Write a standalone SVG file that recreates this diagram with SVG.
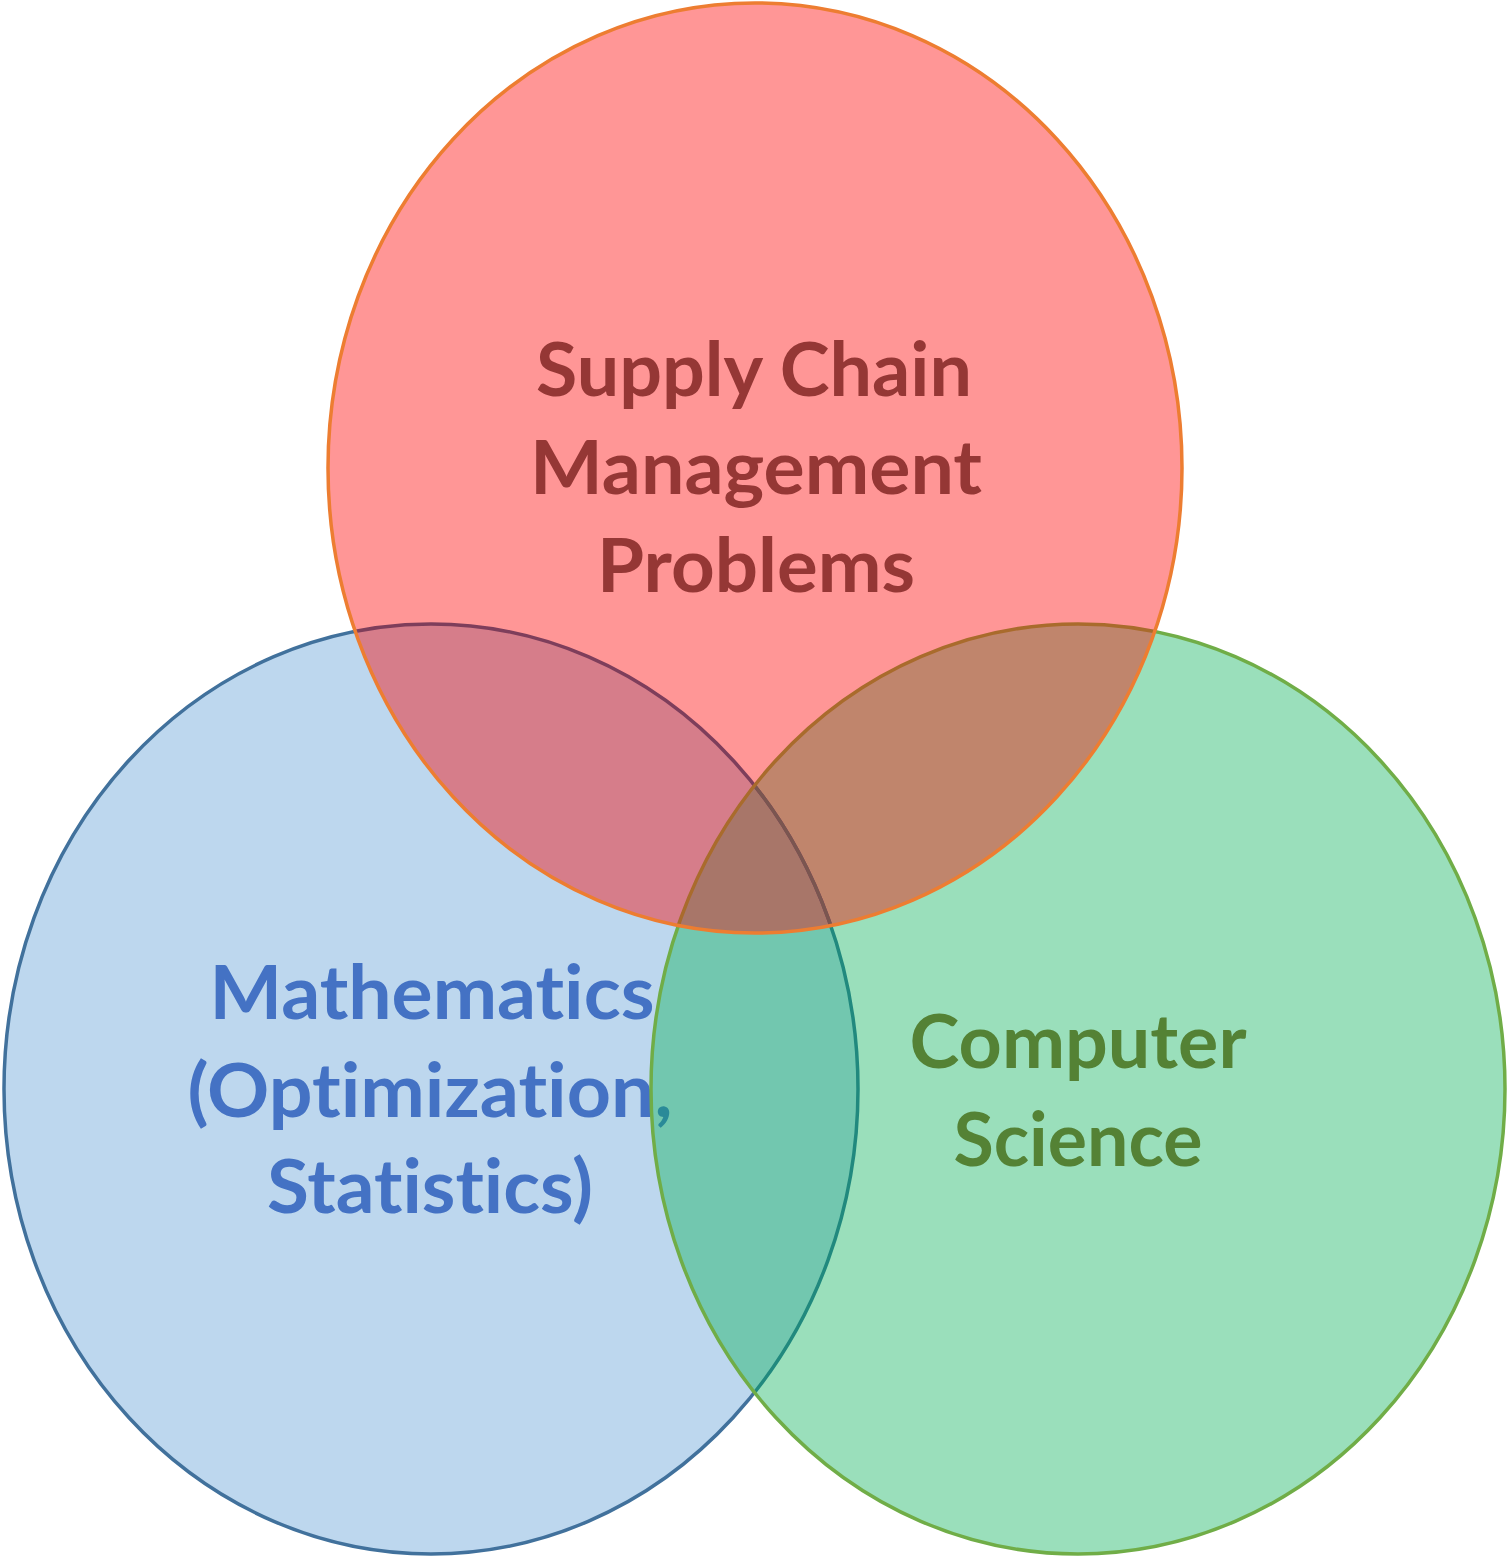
<svg xmlns="http://www.w3.org/2000/svg" xmlns:xlink="http://www.w3.org/1999/xlink" width="1509" height="1559" viewBox="0 0 1509 1559">
<style>
  .lbl { font-family: Lato, "Open Sans", "Liberation Sans", sans-serif; font-weight: bold; font-size: 74px; text-anchor: middle; font-variant-ligatures: none; font-feature-settings: "liga" 0, "clig" 0; }
  .sw { stroke-width: 3.5; fill: none; }
</style>
<defs>
  <ellipse id="eRed" cx="755" cy="468" rx="427" ry="465"/>
  <ellipse id="eBlue" cx="431" cy="1089" rx="427" ry="465"/>
  <ellipse id="eGreen" cx="1078" cy="1089" rx="427" ry="465"/>
  <clipPath id="cRed"><use xlink:href="#eRed"/></clipPath>
  <clipPath id="cBlue"><use xlink:href="#eBlue"/></clipPath>
  <clipPath id="cGreen"><use xlink:href="#eGreen"/></clipPath>
  <g id="mathText">
    <text x="432" y="1019" textLength="445" lengthAdjust="spacingAndGlyphs">Mathematics</text>
    <text x="430" y="1117" textLength="485" lengthAdjust="spacingAndGlyphs">(Optimization,</text>
    <text x="430" y="1213" textLength="326" lengthAdjust="spacingAndGlyphs">Statistics)</text>
  </g>
</defs>
<rect width="1509" height="1559" fill="#ffffff"/>

<g id="mathematics">
  <use xlink:href="#eBlue" fill="#BDD7EE"/>
  <use xlink:href="#eBlue" class="sw" stroke="#41719C"/>
  <use xlink:href="#mathText" class="lbl" fill="#4472C4"/>
</g>

<g id="computer-science">
  <use xlink:href="#eGreen" fill="#9ADFBB"/>
  <g clip-path="url(#cGreen)">
    <use xlink:href="#eBlue" fill="#72C7AF"/>
    <use xlink:href="#eBlue" class="sw" stroke="#21897E"/>
    <use xlink:href="#mathText" class="lbl" fill="#2A8A98"/>
  </g>
  <use xlink:href="#eGreen" class="sw" stroke="#70AD47"/>
  <text class="lbl" fill="#548235" x="1078" y="1068" textLength="337" lengthAdjust="spacingAndGlyphs">Computer</text>
  <text class="lbl" fill="#548235" x="1078" y="1166" textLength="249" lengthAdjust="spacingAndGlyphs">Science</text>
</g>

<g id="supply-chain">
  <use xlink:href="#eRed" fill="#FF9696"/>
  <g clip-path="url(#cRed)">
    <use xlink:href="#eBlue" fill="#D67D8A"/>
    <use xlink:href="#eGreen" fill="#C0856C"/>
    <g clip-path="url(#cBlue)">
      <use xlink:href="#eGreen" fill="#A87669"/>
    </g>
    <use xlink:href="#eBlue" class="sw" stroke="#7E3E5B"/>
    <g clip-path="url(#cGreen)">
      <use xlink:href="#eBlue" class="sw" stroke="#7A5650"/>
    </g>
    <use xlink:href="#eGreen" class="sw" stroke="#A96B2C"/>
  </g>
  <use xlink:href="#eRed" class="sw" stroke="#ED7D31"/>
  <text class="lbl" fill="#953735" x="754" y="396" textLength="436" lengthAdjust="spacingAndGlyphs">Supply Chain</text>
  <text class="lbl" fill="#953735" x="756" y="494" textLength="452" lengthAdjust="spacingAndGlyphs">Management</text>
  <text class="lbl" fill="#953735" x="756" y="592" textLength="318" lengthAdjust="spacingAndGlyphs">Problems</text>
</g>
</svg>
